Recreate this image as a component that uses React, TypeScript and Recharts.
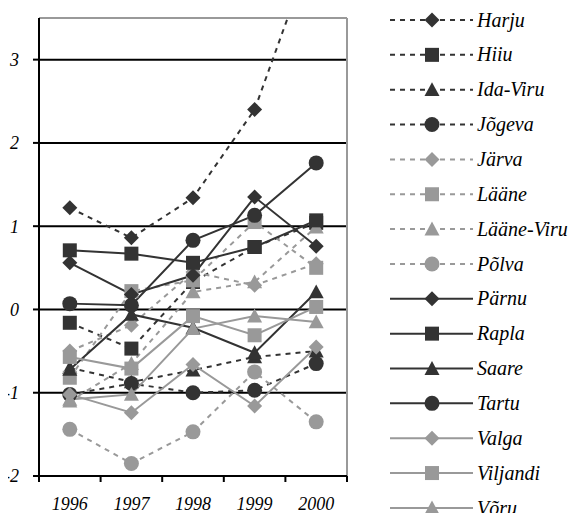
import React from 'react';
import { LineChart, Line, XAxis, YAxis, CartesianGrid, ReferenceLine, Legend } from 'recharts';

const years = [1996, 1997, 1998, 1999, 2000];
const yTicks = [-2, -1, 0, 1, 2, 3];
const xBoundaries = [1995.5, 1996.5, 1997.5, 1998.5, 1999.5, 2000.5];

const harju = [1.22, 0.86, 1.34, 2.4, 4.45];
const hiiu = [-0.16, -0.47, 0.33, 0.75, 1.04];
const idaViru = [-0.7, -0.87, -0.73, -0.57, -0.5];
const jogeva = [-1.02, -0.89, -1.0, -0.97, -0.65];
const jarva = [-0.5, -0.19, 0.45, 0.29, 0.55];
const laane = [-0.82, 0.22, 0.35, 1.05, 0.5];
const laaneViru = [-1.1, -0.65, 0.21, 0.33, 0.99];
const polva = [-1.44, -1.85, -1.47, -0.75, -1.35];
const parnu = [0.56, 0.18, 0.41, 1.35, 0.76];
const rapla = [0.71, 0.67, 0.56, 0.75, 1.07];
const saare = [-0.72, -0.06, -0.22, -0.52, 0.21];
const tartu = [0.07, 0.05, 0.83, 1.13, 1.76];
const valga = [-1.02, -1.24, -0.66, -1.16, -0.45];
const viljandi = [-0.57, -0.71, -0.08, -0.31, 0.03];
const voru = [-1.08, -1.02, -0.23, -0.08, -0.15];

const DARK = '#333333';
const GRAY = '#999999';
const FONT = '"Liberation Serif", "Times New Roman", serif';

type Shape = 'diamond' | 'square' | 'triangle' | 'circle';
interface SeriesDef { name: string; values: number[]; color: string; dashed: boolean; shape: Shape; }

const series: SeriesDef[] = [
  { name: 'Harju', values: harju, color: DARK, dashed: true, shape: 'diamond' },
  { name: 'Hiiu', values: hiiu, color: DARK, dashed: true, shape: 'square' },
  { name: 'Ida-Viru', values: idaViru, color: DARK, dashed: true, shape: 'triangle' },
  { name: 'Jõgeva', values: jogeva, color: DARK, dashed: true, shape: 'circle' },
  { name: 'Järva', values: jarva, color: GRAY, dashed: true, shape: 'diamond' },
  { name: 'Lääne', values: laane, color: GRAY, dashed: true, shape: 'square' },
  { name: 'Lääne-Viru', values: laaneViru, color: GRAY, dashed: true, shape: 'triangle' },
  { name: 'Põlva', values: polva, color: GRAY, dashed: true, shape: 'circle' },
  { name: 'Pärnu', values: parnu, color: DARK, dashed: false, shape: 'diamond' },
  { name: 'Rapla', values: rapla, color: DARK, dashed: false, shape: 'square' },
  { name: 'Saare', values: saare, color: DARK, dashed: false, shape: 'triangle' },
  { name: 'Tartu', values: tartu, color: DARK, dashed: false, shape: 'circle' },
  { name: 'Valga', values: valga, color: GRAY, dashed: false, shape: 'diamond' },
  { name: 'Viljandi', values: viljandi, color: GRAY, dashed: false, shape: 'square' },
  { name: 'Võru', values: voru, color: GRAY, dashed: false, shape: 'triangle' },
];

const data = years.map((year, i) => {
  const row: Record<string, number> = { year };
  series.forEach((s) => { row[s.name] = s.values[i]; });
  return row;
});

const xTicks = [...xBoundaries, ...years].sort((a, b) => a - b);

function MarkerShape({ cx, cy, shape, color }: { cx?: number; cy?: number; shape: Shape; color: string }) {
  if (cx == null || cy == null || isNaN(cx) || isNaN(cy)) return null;
  if (shape === 'diamond') {
    const s = 7.5;
    return <polygon points={`${cx},${cy - s} ${cx + s},${cy} ${cx},${cy + s} ${cx - s},${cy}`} fill={color} />;
  }
  if (shape === 'square') {
    const s = 7;
    return <rect x={cx - s} y={cy - s} width={2 * s} height={2 * s} fill={color} />;
  }
  if (shape === 'triangle') {
    const s = 7.5;
    return <polygon points={`${cx},${cy - s} ${cx + s},${cy + s * 0.85} ${cx - s},${cy + s * 0.85}`} fill={color} />;
  }
  return <circle cx={cx} cy={cy} r={7.5} fill={color} />;
}

const XTick = (props: any) => {
  const { x, y, payload } = props;
  const v = payload.value;
  if (Number.isInteger(v)) {
    return (
      <text x={x} y={y + 34} textAnchor="middle" fontFamily={FONT} fontStyle="italic" fontSize={18} fill="#000">
        {v}
      </text>
    );
  }
  return <line x1={x} x2={x} y1={y} y2={y + 6} stroke="#000" strokeWidth={2} />;
};

const renderLegend = () => (
  <svg width={190} height={540} style={{ overflow: 'visible' }}>
    {series.map((s, i) => {
      const cy = 20 + i * 34.85;
      return (
        <g key={s.name}>
          <line x1={7} x2={90} y1={cy} y2={cy} stroke={s.color} strokeWidth={2}
            strokeDasharray={s.dashed ? '5 5' : undefined} />
          <MarkerShape cx={49} cy={cy} shape={s.shape} color={s.color} />
          <text x={94} y={cy} dy="0.33em" fontFamily={FONT} fontStyle="italic" fontSize={20} fill="#000">
            {s.name}
          </text>
        </g>
      );
    })}
  </svg>
);

export default function App() {
  return (
    <div style={{ marginLeft: -8, marginTop: -8, width: 576, height: 513 }}>
      <LineChart width={576} height={513} data={data} margin={{ top: 18, right: 229, bottom: 0, left: 0 }}>
        <CartesianGrid vertical={false} stroke="#000" strokeWidth={2} />
        <XAxis
          dataKey="year"
          type="number"
          domain={[1995.5, 2000.5]}
          ticks={xTicks}
          interval={0}
          tickSize={0}
          tickMargin={0}
          tickLine={false}
          tick={<XTick />}
          height={37}
          axisLine={{ stroke: '#000', strokeWidth: 2 }}
          allowDecimals
        />
        <YAxis
          type="number"
          domain={[-2, 3.5]}
          ticks={yTicks}
          allowDataOverflow
          width={39}
          tickSize={6}
          tickMargin={14}
          interval={0}
          axisLine={{ stroke: '#000', strokeWidth: 2 }}
          tickLine={{ stroke: '#000', strokeWidth: 2 }}
          tick={{ fontFamily: FONT, fontStyle: 'italic', fontSize: 18, fill: '#000' }}
        />
        <ReferenceLine y={3.5} stroke={GRAY} strokeWidth={2} />
        <ReferenceLine x={2000.5} stroke={GRAY} strokeWidth={2} />
        <Legend
          layout="vertical"
          align="center"
          verticalAlign="middle"
          content={renderLegend}
          wrapperStyle={{ position: 'absolute', left: 383, top: 0, width: 190, height: 540 }}
        />
        {series.map((s) => (
          <Line
            key={s.name}
            type="linear"
            dataKey={s.name}
            name={s.name}
            stroke={s.color}
            strokeWidth={2}
            strokeDasharray={s.dashed ? '5 5' : undefined}
            isAnimationActive={false}
            activeDot={false}
            dot={(p: any) => (
              <MarkerShape key={`${s.name}-${p.index}`} cx={p.cx} cy={p.cy} shape={s.shape} color={s.color} />
            )}
          />
        ))}
      </LineChart>
    </div>
  );
}
